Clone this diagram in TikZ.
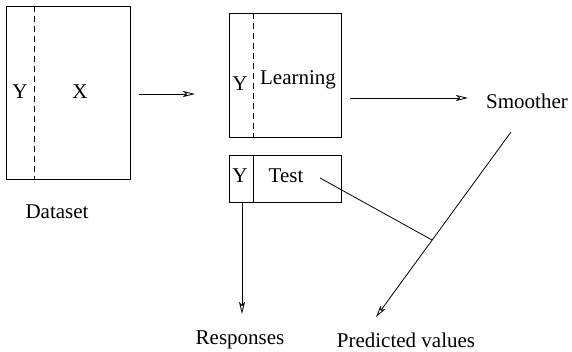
\documentclass[tikz,border=0pt]{standalone}
\usepackage{fontspec}
\setmainfont{Liberation Serif}
\usetikzlibrary{arrows.meta}
\begin{document}
\begin{tikzpicture}[x=1pt,y=-1pt,
  line width=0.8pt,
  lbl/.style={font=\fontsize{21}{25}\selectfont, inner sep=0pt},
  boxnode/.style={draw, inner sep=0pt, anchor=north west},
  arr/.style={-{Stealth[open,length=12pt,width=6pt,inset=3pt]}}]
\useasboundingbox (0,0) rectangle (572,352);
% boxes
\node[boxnode, minimum width=124pt, minimum height=173pt] (data) at (6,6) {};
\node[boxnode, minimum width=112pt, minimum height=124pt] (learn) at (229,13) {};
\node[boxnode, minimum width=112pt, minimum height=47pt] (test) at (229,155) {};
% dividers
\coordinate (dtop) at (34,6);
\coordinate (dbot) at (34,179);
\draw[dashed, dash pattern=on 6pt off 4pt] (dtop) -- (dbot);
\coordinate (ltop) at (253,13);
\coordinate (lbot) at (253,137);
\draw[dashed, dash pattern=on 6pt off 4pt] (ltop) -- (lbot);
\coordinate (ttop) at (253,155);
\coordinate (tbot) at (253,202);
\draw (ttop) -- (tbot);
% labels
\node[lbl] (dy) at (20,92) {Y};
\node[lbl] (dx) at (80,92) {X};
\node[lbl] (dlab) at (57,212) {Dataset};
\node[lbl] (ly) at (240,84) {Y};
\node[lbl] (ll) at (298,80) {Learning};
\node[lbl] (ty) at (240,176) {Y};
\node[lbl] (tt) at (286,176) {Test};
\node[lbl] (sm) at (527,101) {Smoother};
\node[lbl] (resp) at (240,340) {Responses};
\node[lbl] (pred) at (406,340) {Predicted values};
% connectors
\coordinate (a1s) at (139,94);
\coordinate (a1e) at (195,94);
\draw[arr] (a1s) -- (a1e);
\coordinate (a2s) at (350,98);
\coordinate (a2e) at (468,98);
\draw[arr] (a2s) -- (a2e);
\coordinate (rs) at (242,202);
\coordinate (re) at (242,314);
\draw[arr] (rs) -- (re);
\coordinate (ss) at (511,132);
\coordinate (se) at (376,317);
\draw[arr] (ss) -- (se);
\coordinate (ts) at (320,178);
\coordinate (J) at (432,240);
\draw (ts) -- (J);
\end{tikzpicture}
\end{document}
